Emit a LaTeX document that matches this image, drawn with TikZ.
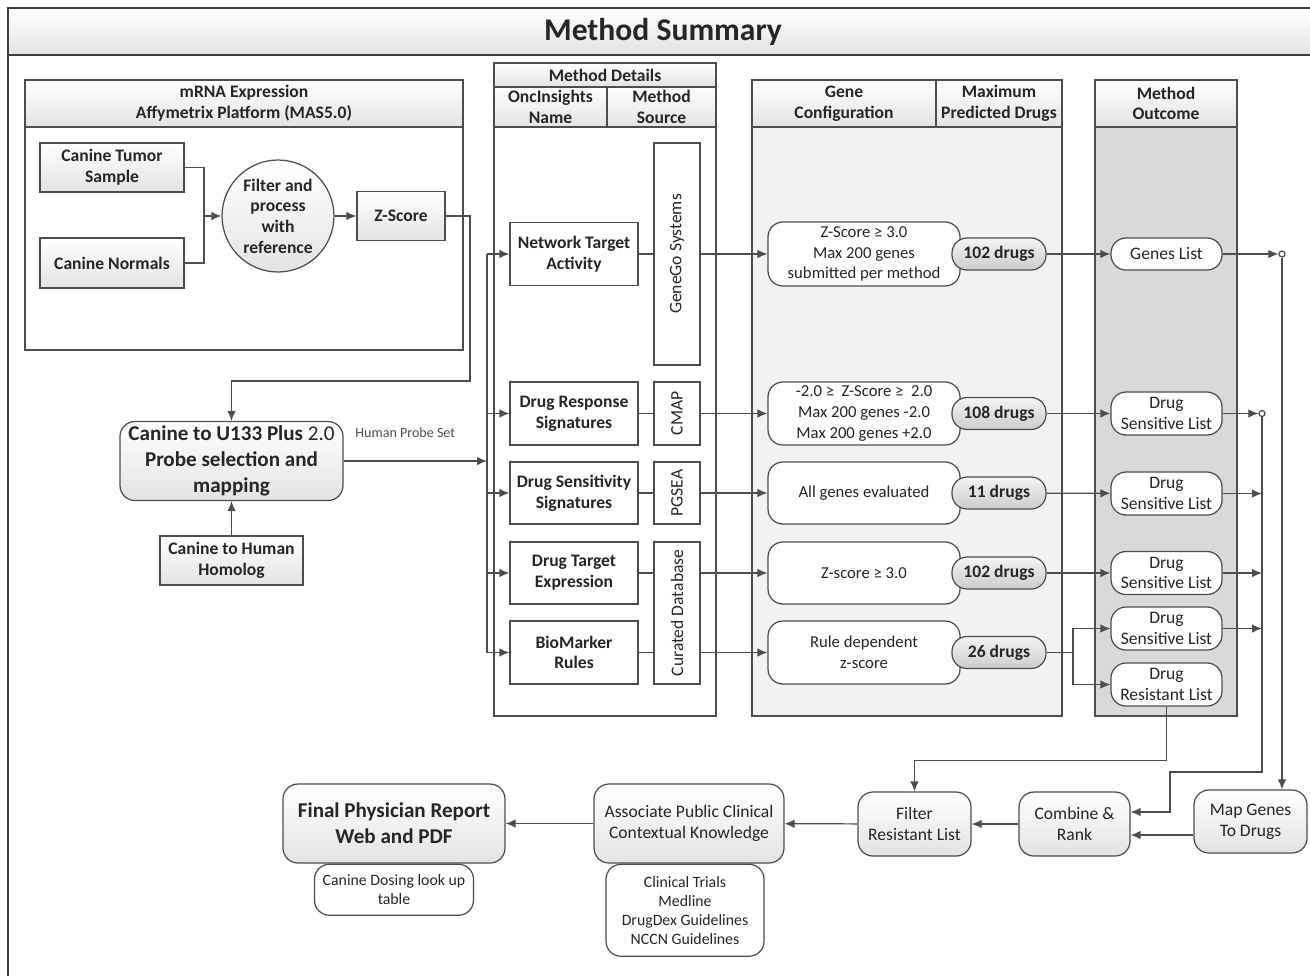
\documentclass[tikz,border=0pt]{standalone}
\usepackage{fontspec}
\setmainfont{Carlito}
\usetikzlibrary{positioning,arrows.meta}
\definecolor{ln}{HTML}{4D4D4D}
\definecolor{txt}{HTML}{262626}
\definecolor{shade}{HTML}{E3E3E3}
\definecolor{cfgfill}{HTML}{F2F2F2}
\definecolor{outfill}{HTML}{D9D9D9}
\begin{document}
\begin{tikzpicture}[x=0.02cm,y=-0.02cm,line width=0.7pt,color=ln,
  >={Latex[length=2mm,width=1.7mm]},
  every node/.style={text=txt,align=center,inner sep=1pt,font=\fontsize{10}{11.8}\selectfont},
  wh/.style 2 args={minimum width=#1*0.02cm,minimum height=#2*0.02cm},
  bold/.style={font=\fontsize{10}{11.8}\selectfont\bfseries},
  big/.style={font=\fontsize{12}{14.7}\selectfont\bfseries},
  small/.style={font=\fontsize{9}{10.8}\selectfont},
  box/.style={draw,top color=white,bottom color=shade},
  plain/.style={draw,fill=white},
  rbox/.style={draw,fill=white,rounded corners=0.3cm},
  gbox/.style={draw,top color=white,bottom color=shade,rounded corners=0.3cm},
  pill/.style={draw,top color=shade!40,bottom color=shade!90!black,rounded corners=0.3cm,wh={94}{32},bold},
  dot/.style={circle,draw,fill=white,inner sep=0pt,minimum size=0.12cm}]
  \fill[white] (0,0) rectangle (1310,975);
  \useasboundingbox (0,0) rectangle (1310,975);
  \draw[line width=1.4pt,color=black!75] (8,8) -- (8,980);
  \node[box,line width=1.4pt,draw=black!75,wh={1310}{47},font=\fontsize{18}{22}\selectfont\bfseries] (title) at (663,31.5) {Method Summary};

  \node[plain,wh={438}{270}] (mrna) at (244,215) {};
  \node[box,wh={438}{47},bold] (mrnah) at (244,103.5) {mRNA Expression\\Affymetrix Platform (MAS5.0)};
  \node[box,wh={144}{49},bold] (tumor) at (112,167.5) {Canine Tumor\\Sample};
  \node[box,wh={144}{50},bold] (normals) at (112,263) {Canine Normals};
  \node[circle,draw,top color=white,bottom color=shade,inner sep=0pt,minimum size=2.24cm,bold] (proc) at (278,216) {Filter and\\process\\with\\reference};
  \node[box,wh={88}{49},bold] (zs) at (401,216) {Z-Score};
  \coordinate (join) at (204,216);

  \node[gbox,wh={223}{79},big] (u133) at (231.5,461) {Canine to U133 Plus {\mdseries 2.0}\\Probe selection and\\mapping};
  \node[box,wh={143}{49},bold] (homol) at (231.5,560.5) {Canine to Human\\Homolog};
  \coordinate (bus) at (487,461);
  \coordinate (turn) at (470,381);

  \node[plain,wh={222}{653}] (mdet) at (605,389.5) {};
  \node[box,wh={222}{24},bold] (mdeth) at (605,75) {Method Details};
  \node[box,wh={113}{40},bold,inner sep=0pt] (mdetn) at (550.5,107) {OncInsights\\Name};
  \node[box,wh={109}{40},bold,inner sep=0pt] (mdets) at (661.5,107) {Method\\Source};
  \node[plain,wh={128}{63},bold] (nta) at (574,254) {Network Target\\Activity};
  \node[plain,wh={128}{63},bold] (drs) at (574,413.5) {Drug Response\\Signatures};
  \node[plain,wh={128}{62},bold] (dss) at (574,493) {Drug Sensitivity\\Signatures};
  \node[plain,wh={128}{62},bold] (dte) at (574,573) {Drug Target\\Expression};
  \node[plain,wh={128}{63},bold] (bmr) at (574,652.5) {BioMarker\\Rules};
  \node[plain,wh={46}{222}] (gg) at (677,254) {\rotatebox{90}{GeneGo Systems}};
  \node[plain,wh={46}{63}] (cmap) at (677,413.5) {\rotatebox{90}{CMAP}};
  \node[plain,wh={46}{62}] (pgsea) at (677,493) {\rotatebox{90}{PGSEA}};
  \node[plain,wh={46}{142}] (cdb) at (677,613) {\rotatebox{90}{Curated Database}};

  \node[draw,fill=cfgfill,wh={310}{636}] (gcfg) at (907,398) {};
  \node[box,wh={184}{47},bold] (gcfgh) at (844,103.5) {Gene\\Configuration};
  \node[box,wh={126}{47},bold] (maxh) at (999,103.5) {Maximum\\Predicted Drugs};
  \node[rbox,wh={192}{64},font=\fontsize{9.5}{11.8}\selectfont] (cfg1) at (864,254) {Z-Score ≥ 3.0\\Max 200 genes\\submitted per method};
  \node[rbox,wh={192}{63},font=\fontsize{9.5}{11.8}\selectfont] (cfg2) at (864,413.5) {-2.0 ≥~ Z-Score ≥~ 2.0\\Max 200 genes -2.0\\Max 200 genes +2.0};
  \node[rbox,wh={192}{62},font=\fontsize{9.5}{11.8}\selectfont] (cfg3) at (864,493) {All genes evaluated};
  \node[rbox,wh={192}{62},font=\fontsize{9.5}{11.8}\selectfont] (cfg4) at (864,573) {Z-score ≥ 3.0};
  \node[rbox,wh={192}{63},font=\fontsize{9.5}{11.8}\selectfont] (cfg5) at (864,652.5) {Rule dependent\\z-score};
  \node[pill] (p1) at (999,254) {102 drugs};
  \node[pill] (p2) at (999,413.5) {108 drugs};
  \node[pill] (p3) at (999,493) {11 drugs};
  \node[pill] (p4) at (999,573) {102 drugs};
  \node[pill] (p5) at (999,652.5) {26 drugs};
  \coordinate (split) at (1073,652.5);

  \node[draw,fill=outfill,wh={142}{636}] (outc) at (1166,398) {};
  \node[box,wh={142}{47},bold] (outch) at (1166,103.5) {Method\\Outcome};
  \node[rbox,wh={111}{32}] (gl) at (1166.5,254) {Genes List};
  \node[rbox,wh={111}{43}] (ds1) at (1166.5,413.5) {Drug\\Sensitive List};
  \node[rbox,wh={111}{43}] (ds2) at (1166.5,493.5) {Drug\\Sensitive List};
  \node[rbox,wh={111}{43}] (ds3) at (1166.5,573) {Drug\\Sensitive List};
  \node[rbox,wh={111}{43}] (ds4) at (1166.5,628.5) {Drug\\Sensitive List};
  \node[rbox,wh={111}{43}] (dr) at (1166.5,684.5) {Drug\\Resistant List};
  \node[dot] (c1) at (1282,254) {};
  \node[dot] (c2) at (1262,413.5) {};
  \coordinate (bend) at (1170,772);

  \node[gbox,wh={222}{79},big] (final) at (394,823.5) {Final Physician Report\\Web and PDF};
  \node[rbox,wh={159}{51},below=0pt of final,font=\fontsize{9}{10.8}\selectfont] (dose) {Canine Dosing look up\\table};
  \node[gbox,wh={190}{79}] (assoc) at (689,823.5) {Associate Public Clinical\\Contextual Knowledge};
  \node[rbox,wh={158}{92},below=0pt of assoc,xshift=-0.08cm,small] (clin) {Clinical Trials\\Medline\\DrugDex Guidelines\\NCCN Guidelines};
  \node[gbox,wh={113}{64}] (filt) at (914.5,824) {Filter\\Resistant List};
  \node[gbox,wh={111}{64}] (comb) at (1074.5,824) {Combine \&\\Rank};
  \node[gbox,wh={113}{63}] (mapg) at (1250.5,821.5) {Map Genes\\To Drugs};

  \draw (tumor.east) -| (join);
  \draw (normals.east) -| (join);
  \draw[->] (join) -- (proc);
  \draw[->] (proc) -- (zs);
  \draw[->] (zs.east) -| (turn) -| (u133.north);
  \draw[->] (homol) -- (u133);
  \draw[->] (u133.east |- bus) -- (bus) node[pos=0.43,above=0.42cm,font=\fontsize{8}{9}\selectfont,text=ln] {Human Probe Set};
  \draw (bus |- nta) -- (bus |- bmr);
  \foreach \n in {nta,drs,dss,dte,bmr} \draw[->] (bus |- \n) -- (\n);
  \draw (nta) -- (gg);
  \draw (drs) -- (cmap);
  \draw (dss) -- (pgsea);
  \draw (dte.east) -- (dte.east -| cdb.west);
  \draw (bmr.east) -- (bmr.east -| cdb.west);
  \draw[->] (gg.east |- nta) -- (cfg1);
  \draw[->] (cmap) -- (cfg2);
  \draw[->] (pgsea) -- (cfg3);
  \draw[->] (cdb.east |- dte) -- (cfg4);
  \draw[->] (cdb.east |- bmr) -- (cfg5);
  \draw[->] (p1) -- (gl);
  \draw[->] (p2) -- (ds1);
  \draw[->] (p3) -- (ds2);
  \draw[->] (p4) -- (ds3);
  \draw (p5) -- (split);
  \draw[->] (split) |- (ds4);
  \draw[->] (split) |- (dr);
  \draw[->] (gl) -- (c1);
  \draw[->] (ds1) -- (c2);
  \foreach \n in {ds2,ds3,ds4} \draw[->] (\n.east) -- (\n.east -| c2);
  \draw[->] (c1.south) -- (c1.south |- mapg.north);
  \draw[->] (c2.south) |- (bend) |- ([yshift=0.24cm]comb.east);
  \draw[->] ([yshift=-0.27cm]mapg.west) -- ([yshift=-0.27cm]mapg.west -| comb.east);
  \draw[->] (dr.south) -- ++(0,54) -| (filt.north);
  \draw[->] (comb) -- (filt);
  \draw[->] (filt) -- (assoc);
  \draw[->] (assoc) -- (final);
\end{tikzpicture}
\end{document}
